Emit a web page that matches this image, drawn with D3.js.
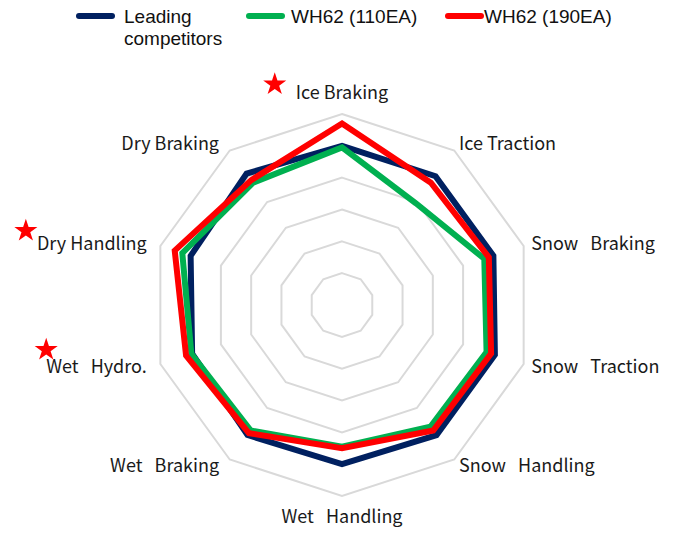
<!DOCTYPE html>
<html lang="en">
<head>
<meta charset="UTF-8">
<script src="https://d3js.org/d3.v7.min.js"></script>
<style>
  body { margin: 0; background: #fff; }
  .axis-label { font-family: "Noto Sans CJK KR", "Noto Sans", sans-serif; font-size: 18px; fill: #1a1a1a; }
  .legend text { font-family: "Liberation Sans", Arial, sans-serif; font-size: 19px; fill: #111; }
</style>
</head>
<body>
<div class="canvas"></div>
<script>
const categories = ['Ice Braking', 'Ice Traction', 'Snow   Braking', 'Snow   Traction', 'Snow   Handling',
  'Wet   Handling', 'Wet   Braking', 'Wet   Hydro.', 'Dry Handling', 'Dry Braking']
const starred = ['Ice Braking', 'Dry Handling', 'Wet   Hydro.']
const seriesNames = ['Leading competitors', 'WH62 (110EA)', 'WH62 (190EA)']
const competitors = [100, 100, 100, 101, 101, 100, 101, 99, 100, 102]
const wh62_110 = [99, 79, 94, 95.5, 94.5, 89, 97.5, 99.5, 105.5, 95]
const wh62_190 = [114, 95, 97, 98.5, 97.5, 90, 99.5, 103, 110.5, 97]
const ringTicks = [20, 40, 60, 80, 100, 120]

const width = 680, height = 534
const cx = 342, cy = 305, outer = 191
const colors = ['#002060', '#00b050', '#ff0000']

const svg = d3.select('.canvas').append('svg')
  .attr('width', width).attr('height', height)

const r = d3.scaleLinear().domain([0, 120]).range([0, outer])
const angle = d3.scalePoint().domain(categories).range([0, 2 * Math.PI * 9 / 10])

const chart = svg.append('g').attr('transform', `translate(${cx},${cy})`)

const radial = d3.lineRadial()
  .angle(d => angle(d.cat))
  .radius(d => r(d.v))
  .curve(d3.curveLinearClosed)

// grid rings
chart.selectAll('.ring').data(ringTicks).enter()
  .append('path')
  .attr('d', t => radial(categories.map(c => ({ cat: c, v: t }))))
  .attr('fill', 'none')
  .attr('stroke', '#d9d9d9')
  .attr('stroke-width', 2)

// series
const series = [competitors, wh62_110, wh62_190]
chart.selectAll('.series').data(series).enter()
  .append('path')
  .attr('d', vals => radial(vals.map((v, i) => ({ cat: categories[i], v }))))
  .attr('fill', 'none')
  .attr('stroke', (d, i) => colors[i])
  .attr('stroke-width', 6)
  .attr('stroke-linejoin', 'miter')

// axis labels
const labels = chart.selectAll('.axis-label').data(categories).enter()
  .append('text')
  .attr('class', 'axis-label')
  .attr('xml:space', 'preserve')
  .style('white-space', 'pre')
  .each(function (c) {
    const a = angle(c)
    const s = Math.sin(a), co = Math.cos(a)
    const vertical = Math.abs(s) < 0.01
    const R = vertical ? 212 : 199
    d3.select(this)
      .attr('x', R * s + (s < -0.01 ? -6 : 0))
      .attr('y', -R * co)
      .attr('dy', '0.35em')
      .attr('text-anchor', vertical ? 'middle' : (s > 0 ? 'start' : 'end'))
  })
  .text(c => c)

// stars next to highlighted labels (offset from the label's top-left)
const starShift = [[-21, 6], [-11, 2], [0, -2]]
labels.filter(c => starred.includes(c)).each(function (c) {
  const b = this.getBBox()
  const [dx, dy] = starShift[starred.indexOf(c)]
  chart.append('path')
    .attr('d', d3.symbol(d3.symbolStar, 165)())
    .attr('fill', '#ff0000')
    .attr('transform', `translate(${b.x + dx},${b.y + dy})`)
})

// legend
const legendX = [76, 246, 445]
const legend = svg.append('g').attr('class', 'legend')
seriesNames.forEach((name, i) => {
  const g = legend.append('g').attr('transform', `translate(${legendX[i]},16)`)
  g.append('line')
    .attr('x1', 3).attr('x2', 36)
    .attr('stroke', colors[i]).attr('stroke-width', 6).attr('stroke-linecap', 'round')
  const tx = i === 0 ? 48 : (i === 1 ? 45 : 39)
  const t = g.append('text').attr('x', tx).attr('dy', '0.35em')
  if (i === 0) {
    t.append('tspan').text('Leading')
    t.append('tspan').attr('x', tx).attr('dy', 22).text('competitors')
  } else {
    t.text(name)
  }
})
</script>
</body>
</html>
